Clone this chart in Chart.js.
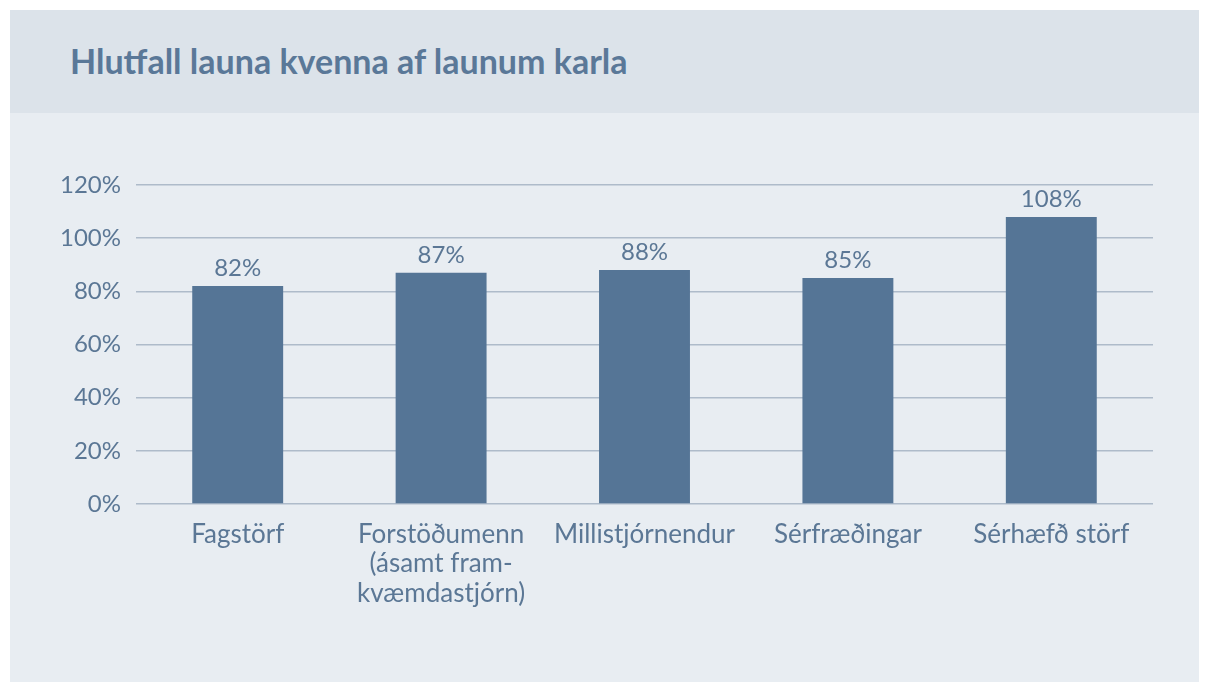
<!DOCTYPE html>
<html>
<head>
<meta charset="utf-8">
<script src="https://cdn.jsdelivr.net/npm/chart.js@4/dist/chart.umd.min.js"></script>
<style>
  html, body { margin: 0; padding: 0; background: #fff; }
  body { width: 1209px; height: 682px; position: relative; overflow: hidden; font-family: Lato, sans-serif; }
  .panel  { position: absolute; left: 10px; top: 10px; width: 1189px; height: 672px; background: #e8edf2; }
  .header { position: absolute; left: 10px; top: 10px; width: 1189px; height: 103px; background: #dce3ea; }
  .title  { position: absolute; left: 70px; top: 41px; margin: 0; font-size: 34px; line-height: 1.2; font-weight: 700; color: #5a7898; }
  .wrap   { position: absolute; left: 0; top: 0; width: 1209px; height: 682px; }
</style>
</head>
<body>
<div class="panel"></div>
<div class="header"></div>
<h1 class="title">Hlutfall launa kvenna af launum karla</h1>
<div class="wrap"><canvas id="chart"></canvas></div>
<script>
const categories = [
  'Fagstörf',
  ['Forstöðumenn', '(ásamt fram-', 'kvæmdastjórn)'],
  'Millistjórnendur',
  'Sérfræðingar',
  'Sérhæfð störf',
];
const ratios    = [82, 87, 88, 85, 108];
const yTicks    = [0, 20, 40, 60, 80, 100, 120];

const TEXT = '#5b7795';
const BAR  = '#557596';
const GRID = '#aebbca';

const barLabels = {
  id: 'barLabels',
  afterDatasetsDraw(chart) {
    const { ctx } = chart;
    const meta = chart.getDatasetMeta(0);
    ctx.save();
    ctx.font = '24px Lato, sans-serif';
    ctx.fillStyle = TEXT;
    ctx.textAlign = 'center';
    ctx.textBaseline = 'alphabetic';
    meta.data.forEach((bar, i) => {
      ctx.fillText(`${ratios[i]}%`, bar.x, bar.y - 10);
    });
    ctx.restore();
  },
};

new Chart(document.getElementById('chart'), {
  type: 'bar',
  data: {
    labels: categories,
    datasets: [{
      data: ratios,
      backgroundColor: BAR,
      borderWidth: 0,
      categoryPercentage: 1,
      barPercentage: 0.447,
    }],
  },
  plugins: [barLabels],
  options: {
    responsive: true, maintainAspectRatio: false, animation: false,
    layout: { padding: { top: 185, right: 56, left: 0, bottom: 0 } },
    plugins: { legend: { display: false }, tooltip: { enabled: false } },
    scales: {
      x: {
        grid: { display: false },
        border: { display: false },
        ticks: { color: TEXT, font: { family: 'Lato', size: 26, lineHeight: 1.13 }, padding: 8, maxRotation: 0, autoSkip: false },
        afterFit: s => { s.height = 178; },
      },
      y: {
        min: 0, max: 120,
        afterBuildTicks: s => { s.ticks = yTicks.map(v => ({ value: v })); },
        grid: { color: GRID, lineWidth: 1.5, drawTicks: false },
        border: { display: false },
        ticks: { color: TEXT, font: { family: 'Lato', size: 24 }, padding: 15, callback: v => `${v}%` },
        afterFit: s => { s.width = 136; },
      },
    },
  },
});
</script>
</body>
</html>
